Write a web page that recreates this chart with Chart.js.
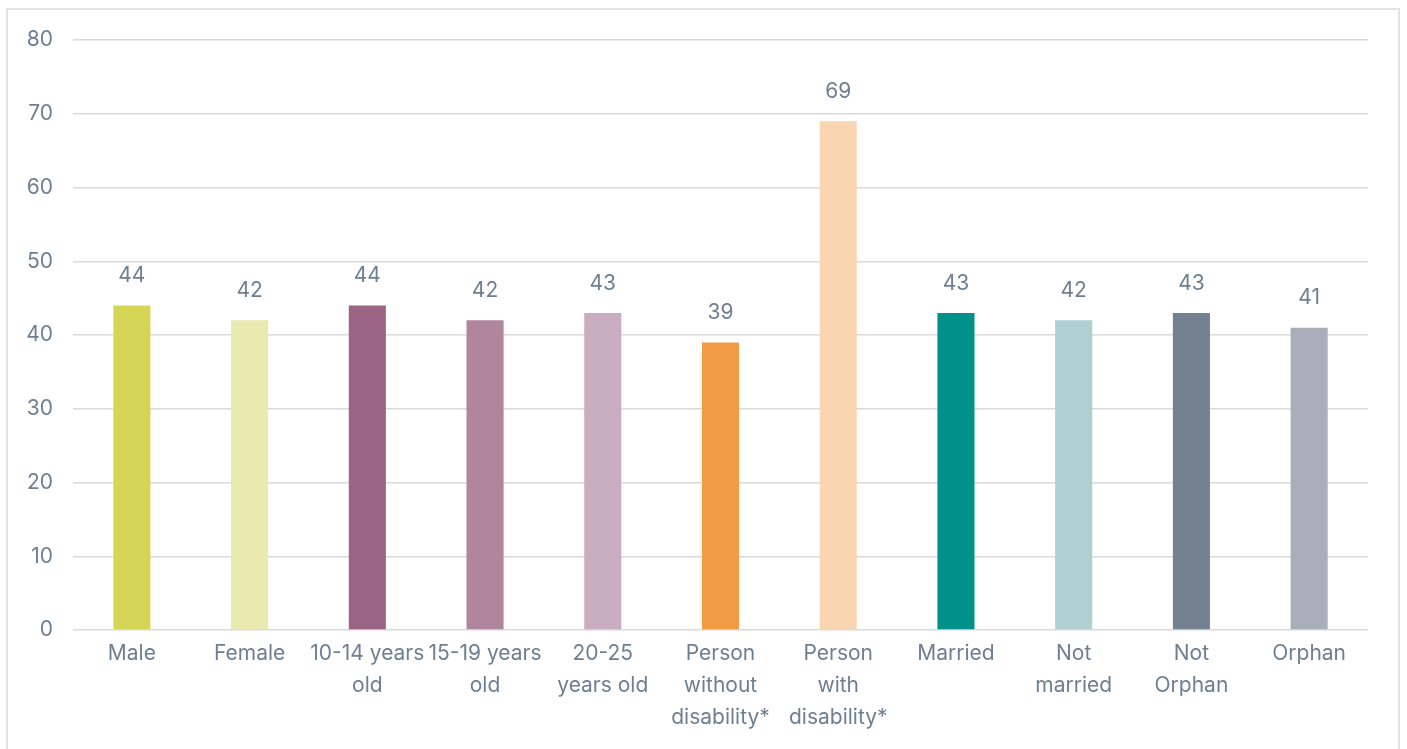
<!DOCTYPE html>
<html>
<head>
<meta charset="utf-8">
<script src="https://cdn.jsdelivr.net/npm/chart.js@4"></script>
<style>
  html, body { margin: 0; padding: 0; background: #fff; }
  #frame { position: absolute; left: 6px; top: 8px; width: 1394px; height: 760px; border: 2px solid #e3e3e3; box-sizing: border-box; }
  #wrap { position: absolute; left: 0; top: 0; width: 1407px; height: 749px; }
</style>
</head>
<body>
<div id="frame"></div>
<div id="wrap"><canvas id="c" width="1407" height="749"></canvas></div>
<script>
const categories = [
  "Male", "Female", ["10-14 years", "old"], ["15-19 years", "old"], ["20-25", "years old"],
  ["Person", "without", "disability*"], ["Person", "with", "disability*"], "Married",
  ["Not", "married"], ["Not", "Orphan"], "Orphan"
];
const values = [44, 42, 44, 42, 43, 39, 69, 43, 42, 43, 41];
const barColors = ["#d5d655", "#e9e9b0", "#9b6384", "#af869e", "#c8aec0", "#f39b42", "#f9d6b1", "#00928a", "#afcfd0", "#738190", "#a8afb8"];
const yTicks = [0, 10, 20, 30, 40, 50, 60, 70, 80];

const textColor = "#6e7f93";
const fontFamily = "Inter, 'Open Sans', sans-serif";

const valueLabels = {
  id: "valueLabels",
  afterDatasetsDraw(chart) {
    const ctx = chart.ctx;
    const meta = chart.getDatasetMeta(0);
    ctx.save();
    ctx.fillStyle = textColor;
    ctx.font = "21px " + fontFamily;
    ctx.textAlign = "center";
    ctx.textBaseline = "bottom";
    meta.data.forEach((bar, i) => {
      ctx.fillText(String(values[i]), bar.x, bar.y - 19);
    });
    ctx.restore();
  }
};

new Chart(document.getElementById("c"), {
  type: "bar",
  data: {
    labels: categories,
    datasets: [{
      data: values,
      backgroundColor: barColors,
      borderWidth: 0,
      categoryPercentage: 1,
      barPercentage: 0.315
    }]
  },
  options: {
    responsive: false,
    animation: false,
    devicePixelRatio: 1,
    layout: { padding: { left: 0, right: 39, top: 40, bottom: 0 } },
    plugins: { legend: { display: false }, tooltip: { enabled: false } },
    scales: {
      x: {
        grid: { display: false },
        border: { display: false },
        ticks: {
          color: textColor,
          font: { family: fontFamily, size: 21, lineHeight: 1.52 },
          padding: 0,
          maxRotation: 0,
          autoSkip: false
        },
        afterFit(scale) { scale.height = 119; }
      },
      y: {
        min: 0,
        max: 80,
        afterBuildTicks(scale) { scale.ticks = yTicks.map(v => ({ value: v })); },
        grid: { color: "#dadada", lineWidth: 1.5, drawTicks: false },
        border: { display: false },
        ticks: {
          color: textColor,
          font: { family: fontFamily, size: 21 },
          padding: 20
        },
        afterFit(scale) { scale.width = 73; }
      }
    }
  },
  plugins: [valueLabels]
});
</script>
</body>
</html>
